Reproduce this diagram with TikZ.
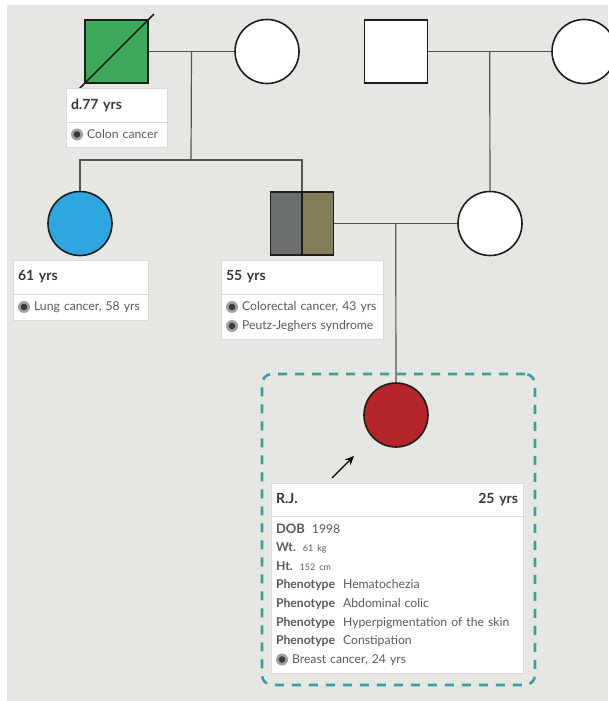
\documentclass[tikz,border=0pt]{standalone}
\usepackage{fontspec}
\setmainfont{Lato}
\usepackage{xcolor}
\usetikzlibrary{positioning, arrows.meta, calc}
\definecolor{bggray}{HTML}{E6E6E2}
\definecolor{outline}{HTML}{1E1E1E}
\definecolor{linkgray}{HTML}{555555}
\definecolor{gpagreen}{HTML}{3DAA5A}
\definecolor{auntblue}{HTML}{2EA6E0}
\definecolor{rjred}{HTML}{B5252B}
\definecolor{dadgray}{HTML}{6C6F70}
\definecolor{dadolive}{HTML}{857C5A}
\definecolor{probteal}{HTML}{3D9E9E}
\definecolor{headtext}{HTML}{383838}
\definecolor{bodytext}{HTML}{5A5A5A}
\definecolor{tagedge}{HTML}{DADADA}
\definecolor{icongray}{HTML}{A0A0A0}
\definecolor{icondark}{HTML}{3A3A3A}

\newcommand{\dxmark}{\tikz[baseline=-0.6ex]{\fill[icongray] (0,0) circle (6pt); \fill[icondark] (0,0) circle (3.3pt);}}

\begin{document}
\begin{tikzpicture}[x=1pt, y=-1pt,
    male/.style={draw=outline, line width=1.6pt, minimum size=63pt, inner sep=0pt},
    female/.style={circle, draw=outline, line width=1.6pt, minimum size=64pt, inner sep=0pt},
    link/.style={draw=linkgray, line width=1.2pt},
    taghead/.style={fill=white, draw=tagedge, line width=0.5pt, outer sep=0pt, anchor=north west,
                    inner xsep=5pt, inner ysep=0pt, minimum height=34pt, align=left,
                    text=headtext, font=\fontsize{14}{16}\selectfont\bfseries},
    tagbody/.style={fill=white, draw=tagedge, line width=0.5pt, outer sep=0pt, anchor=north west,
                    inner xsep=5pt, inner ysep=3pt, align=left,
                    text=bodytext, font=\fontsize{12.2}{19}\selectfont}]
  \useasboundingbox (0,0) rectangle (608,701);
  \fill[white] (0,0) rectangle (608,701);
  \fill[bggray] (7,5) rectangle (608,701);

  % grandparents
  \node[male, fill=gpagreen] (gpa) at (116.5,51.5) {};
  \node[female, fill=white] (gma) at (267,51.5) {};
  \node[male, fill=white] (gpa2) at (396,51.5) {};
  \node[female, fill=white] (gma2) at (584,51.5) {};
  \draw[outline, line width=1.6pt] ($(gpa.south west)!-0.08!(gpa.north east)$) -- ($(gpa.north east)!-0.08!(gpa.south west)$);

  % parents
  \node[female, fill=auntblue] (aunt) at (80,223.5) {};
  \node[male, path picture={
      \fill[dadgray] (path picture bounding box.south west) rectangle (path picture bounding box.north);
      \fill[dadolive] (path picture bounding box.south) rectangle (path picture bounding box.north east);}]
    (dad) at (302,223.5) {};
  \draw[outline, line width=1.6pt] (dad.north) -- (dad.south);
  \node[female, fill=white] (mom) at (490,223.5) {};

  % proband
  \node[draw=probteal, line width=2.6pt, dash pattern=on 9pt off 8pt, rounded corners=10pt,
        minimum width=273pt, minimum height=311pt] (pbox) at (398.5,529.5) {};
  \node[female, fill=rjred] (rj) at (396,415) {};
  \coordinate (arrtail) at (332,478);
  \coordinate (arrhead) at (354,456);
  \draw[-{Stealth[length=9pt, width=8pt]}, line width=1.3pt] (arrtail) -- (arrhead);

  % lines of descent
  \coordinate (m1) at ($(gpa.east)!0.5!(gma.west)$);
  \coordinate (s1) at (191,160);
  \coordinate (m2) at ($(gpa2.east)!0.5!(gma2.west)$);
  \coordinate (m3) at ($(dad.east)!0.5!(mom.west)$);
  \draw[link] (gpa) -- (gma);
  \draw[link] (m1) -- (s1);
  \draw[link] (aunt) |- (s1) -| (dad);
  \draw[link] (gpa2) -- (gma2);
  \draw[link] (m2) -- (mom);
  \draw[link] (dad) -- (mom);
  \draw[link] (m3) -- (rj);

  % tags
  \node[taghead, text width=91pt] (gpah) at (66,88) {d.77 yrs};
  \node[tagbody, text width=91pt, minimum height=25pt] (gpab) at (gpah.south west) {\dxmark\ Colon cancer};

  \node[taghead, text width=125pt] (aunth) at (13,260) {61 yrs};
  \node[tagbody, text width=125pt, minimum height=26pt] (auntb) at (aunth.south west) {\dxmark\ Lung cancer, 58 yrs};

  \node[taghead, text width=152pt] (dadh) at (221,260) {55 yrs};
  \node[tagbody, text width=152pt, minimum height=45pt] (dadb) at (dadh.south west) {%
    \dxmark\ Colorectal cancer, 43 yrs\\
    \dxmark\ Peutz-Jeghers syndrome};

  \node[taghead, text width=242pt, minimum height=33pt] (rjh) at (271,483) {R.J.\hfill 25 yrs};
  \node[tagbody, text width=242pt, minimum height=157pt, font=\fontsize{12.2}{18.6}\selectfont] (rjb) at (rjh.south west) {%
    {\fontsize{13}{13}\selectfont\bfseries DOB}\hspace{7pt}1998\\
    \textbf{Wt.}\hspace{7pt}{\fontsize{9}{9}\selectfont 61 kg}\\
    \textbf{Ht.}\hspace{7pt}{\fontsize{9}{9}\selectfont 152 cm}\\
    \textbf{Phenotype}\hspace{8pt}Hematochezia\\
    \textbf{Phenotype}\hspace{8pt}Abdominal colic\\
    \textbf{Phenotype}\hspace{8pt}Hyperpigmentation of the skin\\
    \textbf{Phenotype}\hspace{8pt}Constipation\\
    \dxmark\ Breast cancer, 24 yrs};
\end{tikzpicture}
\end{document}
